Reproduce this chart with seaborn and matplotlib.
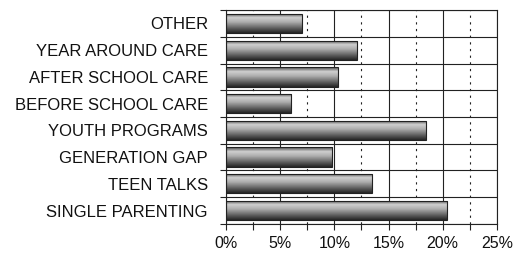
import numpy as np
import pandas as pd
import matplotlib
matplotlib.use("Agg")
import matplotlib.pyplot as plt
import seaborn as sns
from matplotlib.ticker import MultipleLocator, FuncFormatter
from matplotlib.colors import LinearSegmentedColormap

categories = ["OTHER", "YEAR AROUND CARE", "AFTER SCHOOL CARE", "BEFORE SCHOOL CARE",
              "YOUTH PROGRAMS", "GENERATION GAP", "TEEN TALKS", "SINGLE PARENTING"]
percent = [7.0, 12.1, 10.3, 6.0, 18.5, 9.8, 13.5, 20.4]

df = pd.DataFrame({"category": categories, "percent": percent})

sns.set_style("white")
plt.rcParams["font.family"] = ["Liberation Sans", "DejaVu Sans"]

fig = plt.figure(figsize=(5.16, 2.58), dpi=100)
ax = fig.add_axes([0.438, 0.132, 0.525, 0.829])

sns.barplot(data=df, x="percent", y="category", order=categories, orient="h",
            color="#888888", width=0.72, edgecolor="#222222", linewidth=0.8, ax=ax)

# shaded bars (cylinder look)
cmap = LinearSegmentedColormap.from_list(
    "shade", [(0, "#4a4a4a"), (0.22, "#d0d0d0"), (0.45, "#acacac"), (0.8, "#555555"), (1, "#262626")])
grad = np.linspace(0, 1, 64).reshape(-1, 1)
for p in ax.patches:
    x0, y0 = p.get_x(), p.get_y()
    w, h = p.get_width(), p.get_height()
    im = ax.imshow(grad, cmap=cmap, aspect="auto", extent=[x0, x0 + w, y0 + h, y0],
                   origin="upper", zorder=p.get_zorder() + 0.1)
    im.set_clip_path(p)
    p.set_facecolor("none")
    p.set_zorder(p.get_zorder() + 0.2)

ax.set_xlim(0, 25)
ax.set_ylim(7.5, -0.5)
ax.xaxis.set_major_locator(MultipleLocator(5))
ax.xaxis.set_minor_locator(MultipleLocator(2.5))
ax.xaxis.set_major_formatter(FuncFormatter(lambda v, _: f"{v:.0f}%"))
ax.yaxis.set_minor_locator(MultipleLocator(1, offset=0.5))

ax.grid(True, which="major", axis="x", color="#222222", linewidth=0.8, linestyle="-")
ax.grid(True, which="minor", axis="x", color="#222222", linewidth=0.8, linestyle=(0, (2, 4)))
ax.grid(True, which="minor", axis="y", color="#222222", linewidth=0.8, linestyle="-")
ax.set_axisbelow(True)

for s in ax.spines.values():
    s.set_color("#222222")
    s.set_linewidth(0.8)

ax.tick_params(axis="x", which="both", direction="out", length=4, width=0.8,
               color="#222222", labelsize=11.5, pad=5, bottom=True)
ax.tick_params(axis="y", which="major", length=0, labelsize=12, pad=13)
ax.tick_params(axis="y", which="minor", direction="out", length=4, width=0.8,
               color="#222222", left=True)
for lab in ax.get_xticklabels() + ax.get_yticklabels():
    lab.set_color("#111111")

ax.set_xlabel("")
ax.set_ylabel("")

fig.savefig("out.png", dpi=100, facecolor="white")
